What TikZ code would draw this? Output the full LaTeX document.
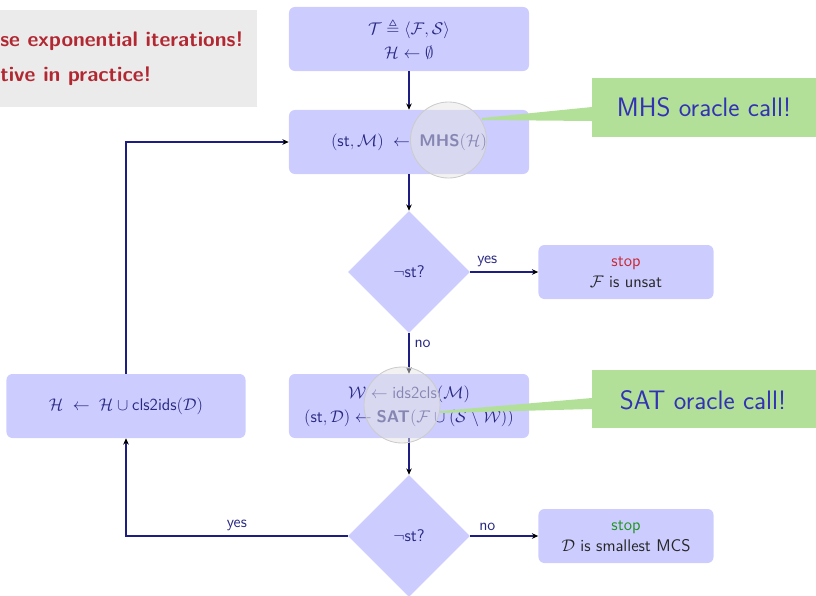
\documentclass[tikz,border=0pt]{standalone}
\usepackage{amssymb}
\usepackage{fontspec}
\usetikzlibrary{shapes.geometric,arrows.meta}
\definecolor{boxfill}{RGB}{204,204,255}
\definecolor{flowline}{RGB}{30,30,130}
\definecolor{flowtext}{RGB}{40,40,130}
\definecolor{notefill}{RGB}{179,224,153}
\definecolor{notetext}{RGB}{50,50,180}
\definecolor{alertbg}{RGB}{235,235,235}
\definecolor{alertred}{RGB}{178,40,50}
\definecolor{stopred}{RGB}{200,40,50}
\definecolor{stopgreen}{RGB}{30,150,30}
\begin{document}
\begin{tikzpicture}[x=0.025cm, y=-0.025cm,
  proc/.style={fill=boxfill, rounded corners=0.15cm, minimum width=6cm, minimum height=1.6cm,
    align=center, text=flowtext, font=\sffamily\fontsize{12}{17}\selectfont},
  dec/.style={diamond, aspect=1, fill=boxfill, minimum width=3.05cm, minimum height=3.05cm,
    inner sep=0pt, text=flowtext, font=\sffamily\fontsize{12}{14}\selectfont},
  stopbox/.style={fill=boxfill, rounded corners=0.15cm, minimum width=4.375cm, minimum height=1.35cm,
    align=center, text=black!85, font=\sffamily\fontsize{12}{15}\selectfont},
  flow/.style={draw=flowline, line width=1.2pt, -{Stealth[length=4.5pt, width=4pt, black]}},
  lbl/.style={text=flowtext, font=\sffamily\fontsize{11.5}{13}\selectfont},
  warn/.style={anchor=west, text=alertred, font=\sffamily\bfseries\fontsize{15}{17}\selectfont, inner sep=0pt},
  zoomc/.style={circle, draw=black!20, fill=black!10, fill opacity=0.5, minimum size=1.9cm, line width=0.6pt},
  note/.style={fill=notefill},
  notelbl/.style={text=notetext, font=\sffamily\fontsize{19}{22}\selectfont}]
  \useasboundingbox (0,0) rectangle (816,595);
  \clip (0,0) rectangle (816,595);
  % warning box, cut at the left edge
  \fill[alertbg] (-10,10) rectangle (257,107);
  \node[warn] (w1) at (0,41) {se exponential iterations!};
  \node[warn] (w2) at (0,76) {tive in practice!};
  % flow chart
  \node[proc] (init) at (409,39) {$\mathcal{T} \triangleq \langle \mathcal{F}, \mathcal{S} \rangle$\\ $\mathcal{H} \leftarrow \emptyset$};
  \node[proc] (mhs) at (409,142) {$(\mathsf{st}, \mathcal{M}) \;\leftarrow\; \textbf{MHS}(\mathcal{H})$};
  \node[dec] (d1) at (409,272) {$\neg\mathsf{st}$?};
  \node[stopbox] (s1) at (626,272) {\textcolor{stopred}{stop}\\ $\mathcal{F}$ is unsat};
  \node[proc] (sat) at (409,406) {$\mathcal{W} \leftarrow \mathsf{ids2cls}(\mathcal{M})$\\ $(\mathsf{st}, \mathcal{D}) \leftarrow \textbf{SAT}(\mathcal{F} \cup (\mathcal{S} \setminus \mathcal{W}))$};
  \node[dec] (d2) at (409,536) {$\neg\mathsf{st}$?};
  \node[stopbox] (s2) at (626,536) {\textcolor{stopgreen}{stop}\\ $\mathcal{D}$ is smallest MCS};
  \node[proc, minimum width=5.975cm] (upd) at (126,406) {$\mathcal{H} \;\leftarrow\; \mathcal{H} \cup \mathsf{cls2ids}(\mathcal{D})$};
  \draw[flow] (init) -- (mhs);
  \draw[flow] (mhs) -- (d1);
  \draw[flow] (d1) -- node[lbl, above, pos=0.25] {yes} (s1);
  \draw[flow] (d1) -- node[lbl, right, pos=0.25] {no} (sat);
  \draw[flow] (sat) -- (d2);
  \draw[flow] (d2) -- node[lbl, above, pos=0.25] {no} (s2);
  \draw[flow] (d2) -| node[lbl, above, pos=0.25] {yes} (upd);
  \draw[flow] (upd) |- (mhs);
  % magnifiers and oracle notes
  \node[zoomc] (zm) at (448.5,140) {};
  \node[zoomc] (zs) at (402,405) {};
  \fill[note] (482,118) -- (592,107) -- (592,121) -- (482,120) -- cycle;
  \fill[note] (440,411) -- (592,398) -- (592,409) -- (440,413) -- cycle;
  \fill[note] (592,78) rectangle (830,137);
  \fill[note] (592,370) rectangle (830,428);
  \node[notelbl] (nm) at (704,107) {MHS oracle call!};
  \node[notelbl] (ns) at (703,400) {SAT oracle call!};
\end{tikzpicture}
\end{document}
